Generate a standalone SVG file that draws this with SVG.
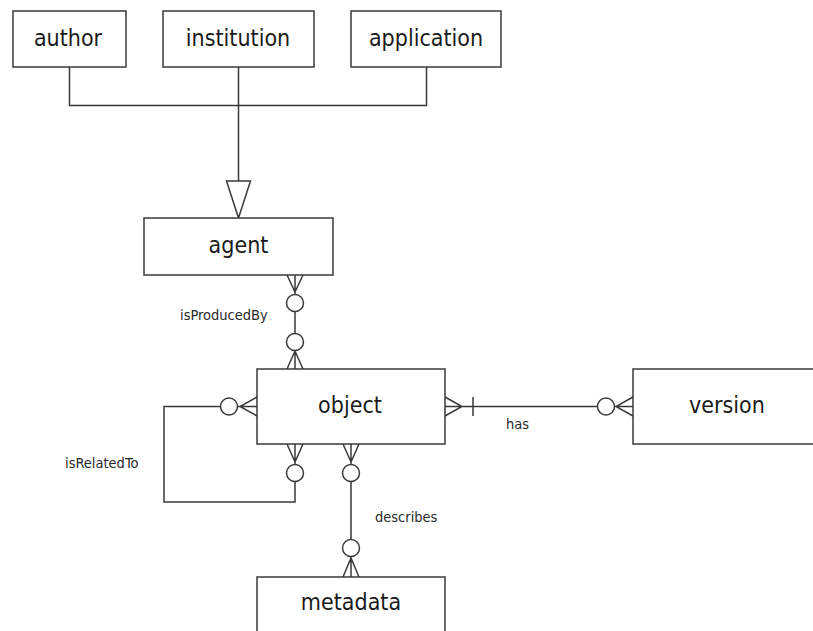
<svg xmlns="http://www.w3.org/2000/svg" width="813" height="631" viewBox="0 0 813 631">
<style>
.box{fill:#fff;stroke:#3a3a3a;stroke-width:1.5}
.big{font-family:"DejaVu Sans Condensed","DejaVu Sans",sans-serif;font-stretch:condensed;font-size:23px;fill:#1a1a1a;text-anchor:middle}
.small{font-family:"DejaVu Sans Condensed","DejaVu Sans",sans-serif;font-stretch:condensed;font-size:14.5px;fill:#2a2a2a}
.ln{fill:none;stroke:#3a3a3a;stroke-width:1.5}
.c{fill:#fff;stroke:#3a3a3a;stroke-width:1.5}
</style>
<rect width="813" height="631" fill="#fff"/>
<g id="connectors">
<path class="ln" d="M69.5,67 V105.5 H426.5 V67 M238.5,67 V181"/>
<polygon class="c" points="226.5,181 250.5,181 238.5,218"/>
<path class="ln" d="M295,275 V369 M287,275 L295,292 L303,275 M287,369 L295,351 L303,369"/>
<circle class="c" cx="295" cy="303" r="8.5"/>
<circle class="c" cx="295" cy="342" r="8.5"/>
<text class="small" x="180" y="320">isProducedBy</text>
<path class="ln" d="M257,406.5 H164 V502 H295 V444 M257,397 L240,406.5 L257,416 M287,444 L295,462 L303,444"/>
<circle class="c" cx="229" cy="406.5" r="8.5"/>
<circle class="c" cx="295" cy="473" r="8.5"/>
<text class="small" x="65" y="468">isRelatedTo</text>
<path class="ln" d="M351,444 V577 M343,444 L351,462 L359,444 M343,577 L351,558 L359,577"/>
<circle class="c" cx="351" cy="473" r="8.5"/>
<circle class="c" cx="351" cy="548" r="8.5"/>
<text class="small" x="375" y="522">describes</text>
<path class="ln" d="M445,406.5 H633 M445,397 L462,406.5 L445,416 M473,397 V416 M633,397 L616,406.5 L633,416"/>
<circle class="c" cx="606" cy="406.5" r="8.5"/>
<text class="small" x="506" y="429">has</text>
</g>
<g id="author"><rect class="box" x="13" y="11" width="113" height="56"/><text class="big" x="68" y="46">author</text></g>
<g id="institution"><rect class="box" x="163" y="11" width="151" height="56"/><text class="big" x="238" y="46">institution</text></g>
<g id="application"><rect class="box" x="351" y="11" width="150" height="56"/><text class="big" x="426" y="46">application</text></g>
<g id="agent"><rect class="box" x="144" y="218" width="189" height="57"/><text class="big" x="238.5" y="253">agent</text></g>
<g id="object"><rect class="box" x="257" y="369" width="188" height="75"/><text class="big" x="350" y="413">object</text></g>
<g id="version"><rect class="box" x="633" y="369" width="200" height="75"/><text class="big" x="727" y="413">version</text></g>
<g id="metadata"><rect class="box" x="257" y="577" width="188" height="80"/><text class="big" x="351" y="610">metadata</text></g>
</svg>
